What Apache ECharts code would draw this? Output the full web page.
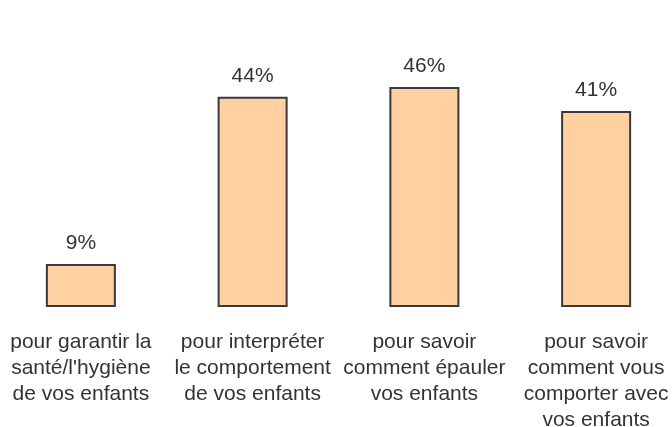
<!DOCTYPE html>
<html>
<head>
<meta charset="utf-8">
<script src="https://cdn.jsdelivr.net/npm/echarts@6/dist/echarts.min.js"></script>
<style>
  html, body { margin: 0; padding: 0; background: #fff; overflow: hidden; }
  #chart { width: 687px; height: 427px; margin-left: -5px; }
</style>
</head>
<body>
<div id="chart"></div>
<script>
  var categories = [
    "pour garantir la\nsanté/l'hygiène\nde vos enfants",
    "pour interpréter\nle comportement\nde vos enfants",
    "pour savoir\ncomment épauler\nvos enfants",
    "pour savoir\ncomment vous\ncomporter avec\nvos enfants"
  ];
  var shares = [9, 44, 46, 41];

  var chart = echarts.init(document.getElementById('chart'));
  chart.setOption({
    animation: false,
    textStyle: { fontFamily: 'Liberation Sans, Arial, sans-serif' },
    grid: { left: 0, right: 0, top: 68, bottom: 120, outerBoundsMode: 'none', containLabel: false },
    xAxis: {
      type: 'category',
      data: categories,
      axisLine: { show: false },
      axisTick: { show: false },
      axisLabel: {
        interval: 0,
        margin: 22,
        fontSize: 21,
        lineHeight: 26,
        color: '#333',
        verticalAlign: 'top'
      }
    },
    yAxis: {
      type: 'value',
      min: 0,
      max: 50,
      show: false
    },
    series: [{
      type: 'bar',
      data: shares,
      barWidth: 70,
      itemStyle: { color: '#FFD0A0', borderColor: '#3a3a3a', borderWidth: 2 },
      label: {
        show: true,
        position: 'top',
        distance: 10,
        fontSize: 21,
        color: '#333',
        formatter: '{c}%'
      }
    }]
  });
</script>
</body>
</html>
